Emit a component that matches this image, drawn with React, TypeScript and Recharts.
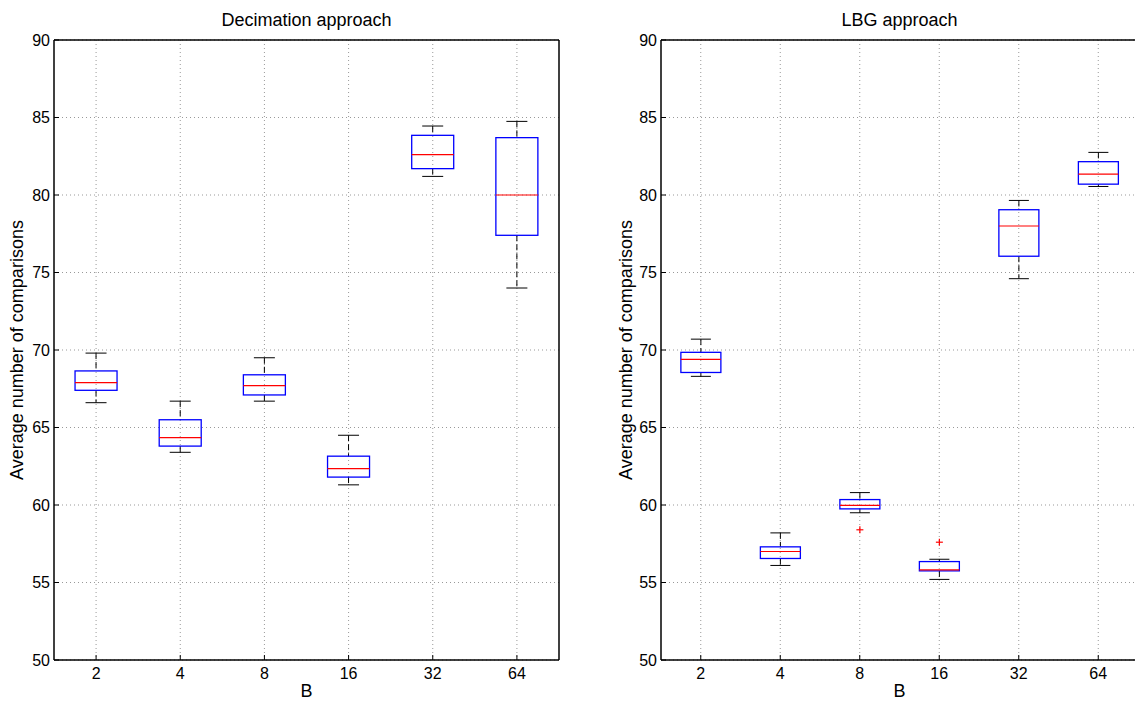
import { ComposedChart, Bar, XAxis, YAxis, CartesianGrid } from 'recharts';

const categories = ['2', '4', '8', '16', '32', '64'];

// Decimation approach (whisker low, Q1, median, Q3, whisker high)
const decLow = [66.6, 63.4, 66.7, 61.3, 81.2, 74.0];
const decQ1 = [67.4, 63.8, 67.1, 61.8, 81.7, 77.4];
const decMed = [67.9, 64.35, 67.7, 62.35, 82.6, 80.0];
const decQ3 = [68.65, 65.5, 68.4, 63.15, 83.85, 83.7];
const decHigh = [69.8, 66.7, 69.5, 64.5, 84.45, 84.75];

// LBG approach
const lbgLow = [68.3, 56.1, 59.5, 55.2, 74.6, 80.55];
const lbgQ1 = [68.55, 56.55, 59.75, 55.75, 76.05, 80.7];
const lbgMed = [69.4, 57.0, 59.97, 55.82, 78.0, 81.35];
const lbgQ3 = [69.85, 57.3, 60.35, 56.35, 79.05, 82.15];
const lbgHigh = [70.7, 58.2, 60.8, 56.5, 79.65, 82.75];
const lbgOutlier = [null, null, 58.4, 57.6, null, null];

const yTicks = [50, 55, 60, 65, 70, 75, 80, 85, 90];
const FONT = '"Liberation Sans", Arial, Helvetica, sans-serif';

type Row = { b: string; lo: number; q1: number; med: number; q3: number; hi: number; out: number | null };

function buildRows(lo: number[], q1: number[], med: number[], q3: number[], hi: number[], out?: (number | null)[]): Row[] {
  return categories.map((b, i) => ({
    b, lo: lo[i], q1: q1[i], med: med[i], q3: q3[i], hi: hi[i], out: out ? out[i] : null,
  }));
}

const decRows = buildRows(decLow, decQ1, decMed, decQ3, decHigh);
const lbgRows = buildRows(lbgLow, lbgQ1, lbgMed, lbgQ3, lbgHigh, lbgOutlier);

// bar spans whisker range; other stats are placed on the same linear scale
const BoxShape = (props: any) => {
  const { x, y, width, height, payload } = props;
  if (!payload || height == null) return <g />;
  const { lo, q1, med, q3, hi, out } = payload as Row;
  const py = (v: number) => y + ((hi - v) / (hi - lo)) * height;
  const cx = x + width / 2;
  const cap = width / 4;
  return (
    <g>
      <line x1={cx} x2={cx} y1={py(hi)} y2={py(q3)} stroke="#000" strokeWidth={1} strokeDasharray="6 3" />
      <line x1={cx} x2={cx} y1={py(q1)} y2={py(lo)} stroke="#000" strokeWidth={1} strokeDasharray="6 3" />
      <line x1={cx - cap} x2={cx + cap} y1={py(hi)} y2={py(hi)} stroke="#000" strokeWidth={1} />
      <line x1={cx - cap} x2={cx + cap} y1={py(lo)} y2={py(lo)} stroke="#000" strokeWidth={1} />
      <rect x={x} y={py(q3)} width={width} height={py(q1) - py(q3)} fill="none" stroke="#0000ff" strokeWidth={1.3} />
      <line x1={x} x2={x + width} y1={py(med)} y2={py(med)} stroke="#ff0000" strokeWidth={1.2} />
      {out != null && (
        <g stroke="#ff0000" strokeWidth={1.2}>
          <line x1={cx - 3.5} x2={cx + 3.5} y1={py(out)} y2={py(out)} />
          <line x1={cx} x2={cx} y1={py(out) - 3.5} y2={py(out) + 3.5} />
        </g>
      )}
    </g>
  );
};

function Panel({ rows, title, left, width, yAxisWidth, rightMargin, labelDx }: {
  rows: Row[]; title: string; left: number; width: number; yAxisWidth: number; rightMargin: number; labelDx: number;
}) {
  const tickStyle = { fontSize: 16, fill: '#000', fontFamily: FONT };
  const axisStroke = { stroke: '#000', strokeWidth: 1.5 };
  return (
    <div style={{ position: 'absolute', left, top: 0 }}>
      <ComposedChart width={width} height={713} data={rows} barCategoryGap="25%"
        margin={{ top: 39, right: rightMargin, bottom: 0, left: 0 }}>
        <CartesianGrid xAxisId="b" yAxisId="l" stroke="#999" strokeDasharray="1 3" syncWithTicks />
        <XAxis xAxisId="b" dataKey="b" type="category" height={53} tick={tickStyle}
          axisLine={axisStroke} tickLine={{ stroke: '#000' }} tickSize={-5} tickMargin={13}
          label={{ value: 'B', position: 'insideBottom', offset: 16, style: { fontSize: 18, fill: '#000', fontFamily: FONT } }} />
        <XAxis xAxisId="t" dataKey="b" type="category" orientation="top" height={1} tick={false}
          axisLine={axisStroke} tickLine={{ stroke: '#000' }} tickSize={-5}
          label={{ value: title, position: 'top', offset: 13, style: { fontSize: 18, fill: '#000', fontFamily: FONT } }} />
        <YAxis yAxisId="l" type="number" domain={[50, 90]} ticks={yTicks} width={yAxisWidth} tick={tickStyle}
          axisLine={axisStroke} tickLine={{ stroke: '#000' }} tickSize={-5} tickMargin={9}
          label={{ value: 'Average number of comparisons', angle: -90, position: 'center', dx: labelDx,
            style: { fontSize: 18, fill: '#000', fontFamily: FONT } }} />
        <YAxis yAxisId="r" type="number" orientation="right" domain={[50, 90]} ticks={yTicks} width={1} tick={false}
          axisLine={axisStroke} tickLine={{ stroke: '#000' }} tickSize={-5} />
        <Bar xAxisId="b" yAxisId="l" dataKey={(d: Row) => [d.lo, d.hi]} shape={BoxShape} isAnimationActive={false} />
      </ComposedChart>
    </div>
  );
}

export default function App() {
  return (
    <div style={{ position: 'absolute', left: 0, top: 0, width: 1135, height: 713, overflow: 'hidden', background: '#fff' }}>
      <Panel rows={decRows} title="Decimation approach" left={0} width={580} yAxisWidth={54} rightMargin={20} labelDx={-10} />
      <Panel rows={lbgRows} title="LBG approach" left={600} width={560} yAxisWidth={61} rightMargin={21} labelDx={-5} />
    </div>
  );
}
